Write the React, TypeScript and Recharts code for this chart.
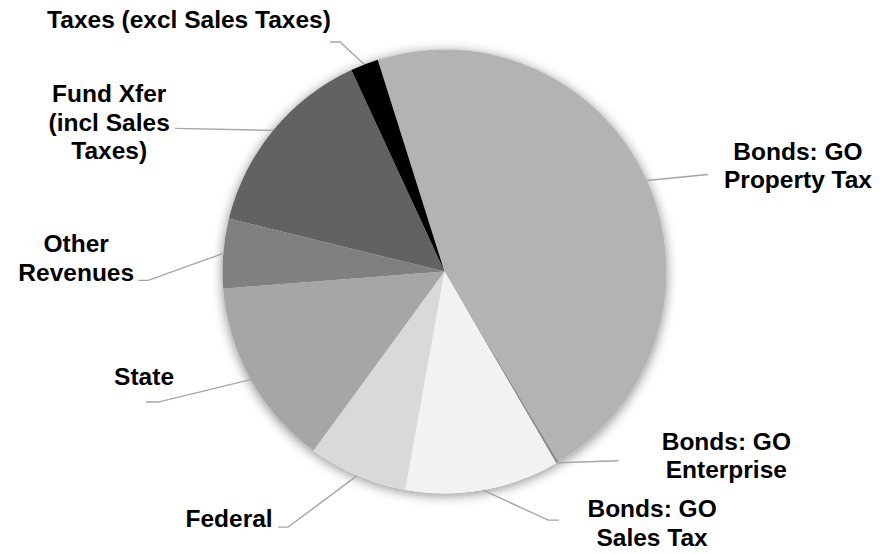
import React from "react";
import { PieChart, Pie, Cell } from "recharts";

const categories = [
  "Bonds: GO Property Tax",
  "Bonds: GO Enterprise",
  "Bonds: GO Sales Tax",
  "Federal",
  "State",
  "Other Revenues",
  "Fund Xfer (incl Sales Taxes)",
  "Taxes (excl Sales Taxes)",
];
const shares = [46.28, 0.19, 11.22, 7.22, 13.72, 5.06, 14.28, 2.03];
const labelLines = [
  ["Bonds: GO", "Property Tax"],
  ["Bonds: GO", "Enterprise"],
  ["Bonds: GO", "Sales Tax"],
  ["Federal"],
  ["State"],
  ["Other", "Revenues"],
  ["Fund Xfer", "(incl Sales", "Taxes)"],
  ["Taxes (excl Sales Taxes)"],
];
const colors = ["#b3b3b3", "#8a8a8a", "#f2f2f2", "#d9d9d9", "#a6a6a6", "#808080", "#626262", "#000000"];

// label layout: offsets from the slice's edge point (leader elbow, leader end, text centre/first baseline)
const labelLayout = [
  { ex: 61, ey: -6, hx: 61, tx: 151, ty: -21 },
  { ex: 61, ey: -2, hx: 61, tx: 169, ty: -13 },
  { ex: 65, ey: 30, hx: 76, tx: 169, ty: 27 },
  { ex: -69, ey: 51.5, hx: -79, tx: -128, ty: 51.5 },
  { ex: -92.5, ey: 22.5, hx: -104.5, tx: -106.5, ty: 5.5 },
  { ex: -75, ey: 27, hx: -85, tx: -147, ty: -1 },
  { ex: -98, ey: -2, hx: -98, tx: -164, ty: -28 },
  { ex: -24.4, ey: -22.5, hx: -34.4, tx: -175.4, ty: -36.5 },
];

const data = categories.map((name, i) => ({ name, value: shares[i] }));
const RAD = Math.PI / 180;
const CX = 444.5;
const CY = 271.5;
const R = 222;
const START = 107.5;
const LINE_H = 28.5;

const renderLabel = (props: any) => {
  const { cx, cy, midAngle, outerRadius, index } = props;
  const ax = cx + outerRadius * Math.cos(-midAngle * RAD);
  const ay = cy + outerRadius * Math.sin(-midAngle * RAD);
  const L = labelLayout[index];
  const pts = `${ax},${ay} ${ax + L.ex},${ay + L.ey} ${ax + L.hx},${ay + L.ey}`;
  return (
    <g key={`lbl-${index}`}>
      <polyline points={pts} fill="none" stroke="#a6a6a6" strokeWidth={1.4} />
      <text
        x={ax + L.tx}
        y={ay + L.ty}
        textAnchor="middle"
        fontFamily="'Liberation Sans', Arial, sans-serif"
        fontWeight="bold"
        fontSize={24.5}
        fill="#000"
      >
        {labelLines[index].map((line, j) => (
          <tspan key={j} x={ax + L.tx} y={ay + L.ty + j * LINE_H}>
            {line}
          </tspan>
        ))}
      </text>
    </g>
  );
};

export default function App() {
  return (
    <div style={{ position: "absolute", left: 0, top: 0, width: 896, height: 554, background: "#fff" }}>
      <PieChart width={896} height={554} margin={{ top: 0, right: 0, bottom: 0, left: 0 }}>
        <Pie
          data={[{ name: "shadow", value: 1 }]}
          dataKey="value"
          cx={CX}
          cy={CY}
          outerRadius={R}
          stroke="none"
          isAnimationActive={false}
        >
          <Cell fill="#ffffff" style={{ filter: "drop-shadow(0px 2px 6px rgba(0,0,0,0.45))" }} />
        </Pie>
        <Pie
          data={data}
          dataKey="value"
          nameKey="name"
          cx={CX}
          cy={CY}
          outerRadius={R}
          startAngle={START}
          endAngle={START - 360}
          stroke="none"
          label={renderLabel}
          labelLine={false}
          isAnimationActive={false}
        >
          {data.map((d, i) => (
            <Cell key={d.name} fill={colors[i]} />
          ))}
        </Pie>
      </PieChart>
    </div>
  );
}
